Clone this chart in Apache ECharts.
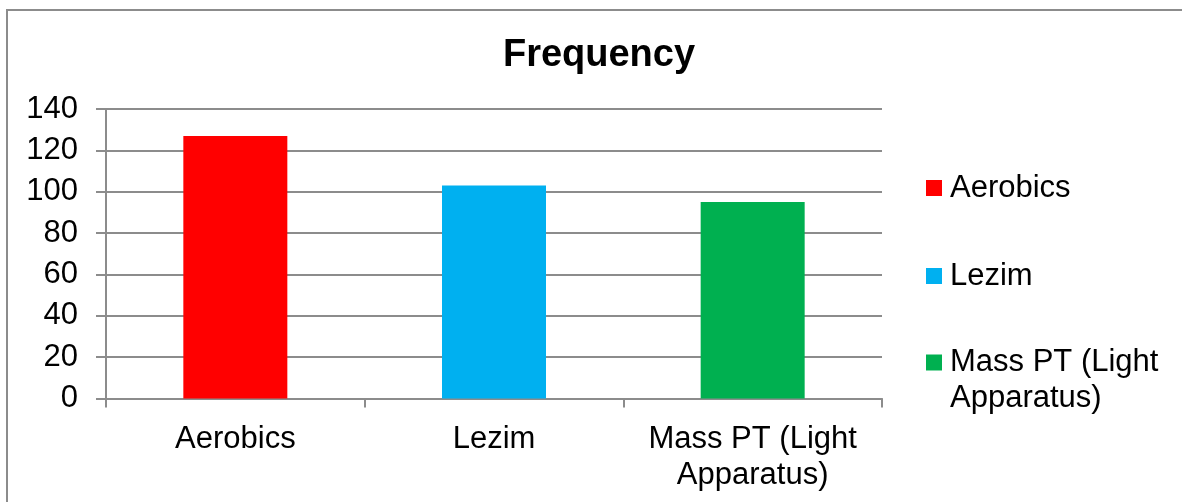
<!DOCTYPE html>
<html>
<head>
<meta charset="utf-8">
<script src="https://cdn.jsdelivr.net/npm/echarts@6/dist/echarts.min.js"></script>
<style>
html,body{margin:0;padding:0;background:#fff;}
#chart{width:1182px;height:502px;}
</style>
</head>
<body>
<div id="chart"></div>
<script>
const categories = ['Aerobics', 'Lezim', 'Mass PT (Light Apparatus)'];
const tickLabels = ['Aerobics', 'Lezim', 'Mass PT (Light\nApparatus)'];
const legendLabels = ['Aerobics', 'Lezim', '\nMass PT (Light\nApparatus)'];
const values = [127, 103, 95];
const colors = ['#FF0000', '#00B0F0', '#00B050'];
const yTicks = [0, 20, 40, 60, 80, 100, 120, 140];

const FONT = '"Liberation Sans", Arial, sans-serif';
const chart = echarts.init(document.getElementById('chart'));

const series = categories.map((name, i) => ({
  name: name,
  type: 'bar',
  stack: 'total',
  barWidth: 104,
  itemStyle: { color: colors[i] },
  data: categories.map((c, j) => (j === i ? values[i] : null))
}));

const legendTops = [170, 258, 308.5];
const legends = categories.map((name, i) => ({
  data: [name],
  left: 926,
  top: legendTops[i],
  orient: 'vertical',
  icon: 'rect',
  itemWidth: 16,
  itemHeight: 16,
  itemGap: 0,
  padding: 0,
  selectedMode: false,
  formatter: (n) => legendLabels[categories.indexOf(n)],
  textStyle: {
    fontFamily: FONT, fontSize: 31, color: '#000', lineHeight: 36,
    padding: [0, 0, 0, 3]
  }
}));

chart.setOption({
  animation: false,
  backgroundColor: '#fff',
  title: {
    text: 'Frequency',
    left: 594,
    textAlign: 'center',
    top: 32,
    textStyle: { fontFamily: FONT, fontSize: 38, fontWeight: 'bold', color: '#000' }
  },
  legend: legends,
  graphic: [{
    type: 'rect',
    shape: { x: 7, y: 10, width: 1400, height: 800 },
    style: { fill: 'none', stroke: '#8c8c8c', lineWidth: 2 },
    silent: true
  }],
  grid: { left: 106, right: 300, top: 109, bottom: 103.5 },
  xAxis: {
    type: 'category',
    data: categories,
    axisLine: { lineStyle: { color: '#8c8c8c', width: 2 } },
    axisTick: { show: true, length: 9, inside: false, lineStyle: { color: '#8c8c8c', width: 2 } },
    axisLabel: {
      interval: 0,
      fontFamily: FONT, fontSize: 31, color: '#000', lineHeight: 36, margin: 23,
      formatter: (v) => tickLabels[categories.indexOf(v)]
    }
  },
  yAxis: {
    type: 'value',
    min: 0, max: 140, interval: 20,
    axisLine: { show: true, lineStyle: { color: '#8c8c8c', width: 2 } },
    axisTick: { show: true, length: 10, lineStyle: { color: '#8c8c8c', width: 2 } },
    splitLine: { show: true, lineStyle: { color: '#8c8c8c', width: 2 } },
    axisLabel: {
      fontFamily: FONT, fontSize: 31, color: '#000', margin: 28,
      padding: [5, 0, 0, 0],
      formatter: (v) => yTicks.includes(v) ? String(v) : ''
    }
  },
  series: series
});
</script>
</body>
</html>
